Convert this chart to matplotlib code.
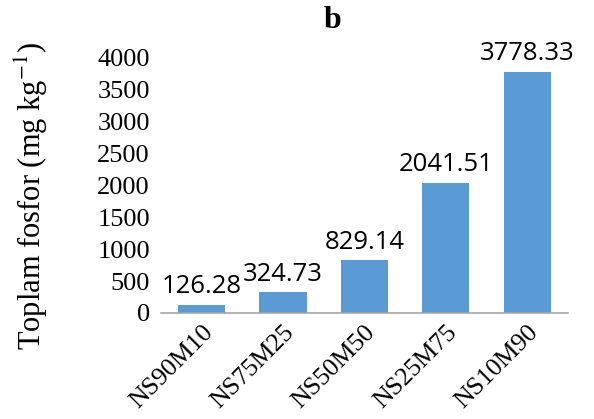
import matplotlib.pyplot as plt

categories = ['NS90M10', 'NS75M25', 'NS50M50', 'NS25M75', 'NS10M90']
values = [126.28, 324.73, 829.14, 2041.51, 3778.33]
yticks = [0, 500, 1000, 1500, 2000, 2500, 3000, 3500, 4000]

plt.rcParams['mathtext.fontset'] = 'stix'
serif = 'Liberation Serif'

fig = plt.figure(figsize=(5.94, 4.19), dpi=100)
ax = fig.add_axes([0.271, 0.253, 0.685, 0.609])

ax.bar(range(len(categories)), values, width=0.58, color='#5B9BD5')

# value labels above bars
for i, v in enumerate(values):
    ax.annotate('%.2f' % v, (i, v), xytext=(0, 4), textcoords='offset points',
                ha='center', va='bottom', fontsize=18.5, family='Open Sans')

ax.set_xlim(-0.5, len(categories) - 0.5)
ax.set_ylim(0, 4000)
ax.set_yticks(yticks)
ax.set_yticklabels([str(t) for t in yticks], family=serif, fontsize=19)
ax.set_xticks(range(len(categories)))
ax.set_xticklabels(categories, rotation=45, ha='right', rotation_mode='anchor',
                   family=serif, fontsize=18.5)
ax.tick_params(axis='x', length=0, pad=6)
ax.tick_params(axis='y', length=0, pad=8)

for s in ['top', 'right', 'left']:
    ax.spines[s].set_visible(False)
ax.spines['bottom'].set_color('#A6A6A6')
ax.spines['bottom'].set_linewidth(1.2)

ax.set_ylabel('Toplam fosfor (mg kg$^{-1}$)', family=serif, fontsize=22)
ax.yaxis.set_label_coords(-0.273, 0.458)
fig.text(0.56, 0.952, 'b', family=serif, fontsize=23, fontweight='bold', ha='center', va='center')

fig.savefig('out.png', dpi=100)
